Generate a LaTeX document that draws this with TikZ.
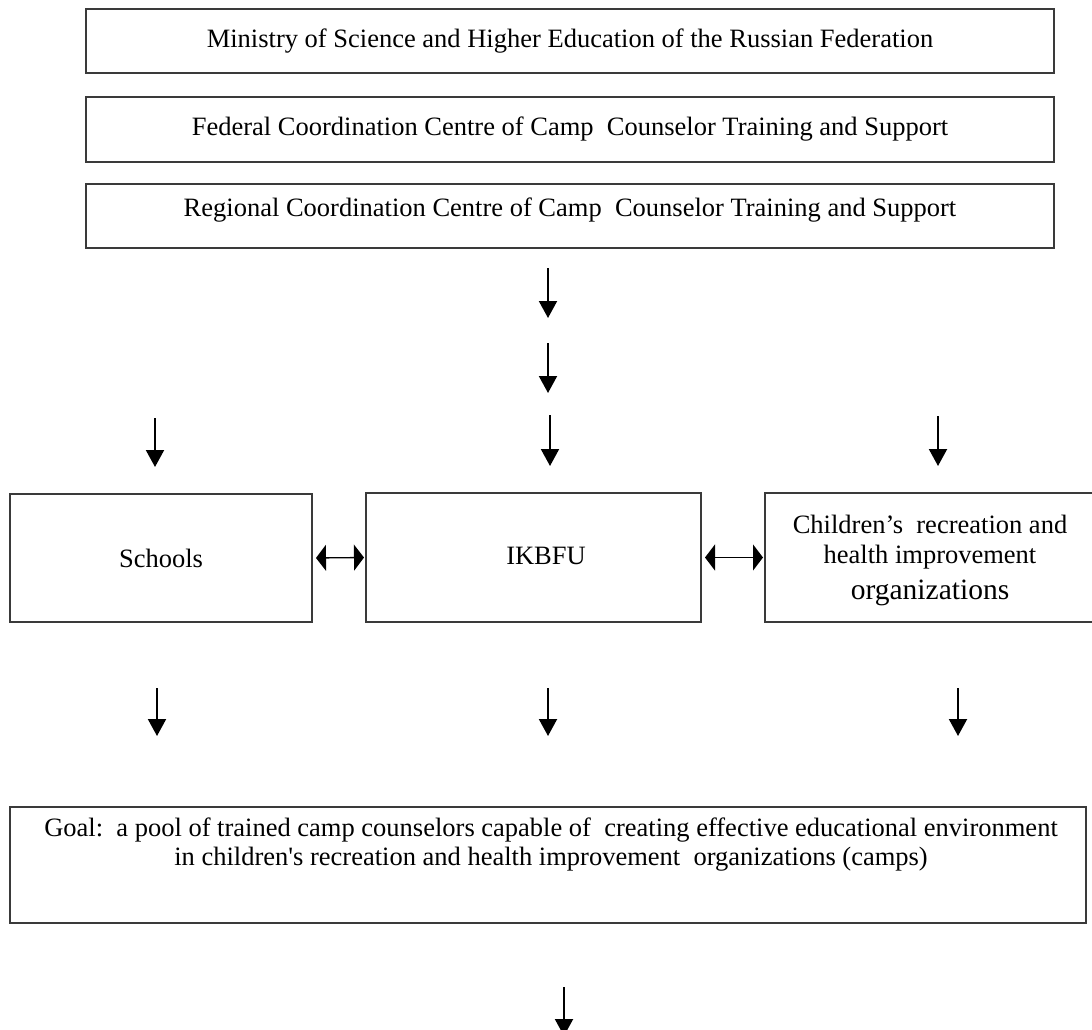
\documentclass[tikz,border=0pt]{standalone}
\usepackage{fontspec}
\setmainfont{Liberation Serif}
\newfontfamily\nomapserif{Liberation Serif}[Ligatures=Common]
\usetikzlibrary{arrows.meta}
\definecolor{boxgray}{HTML}{3A3A3A}
\newcommand{\sq}{{\nomapserif'}}
\begin{document}
\begin{tikzpicture}[x=1pt,y=-1pt,
  box/.style={draw=boxgray,line width=2pt,inner sep=0pt,font=\fontsize{26.5}{29}\selectfont,align=center},
  txt/.style={inner sep=0pt,font=\fontsize{26.5}{29}\selectfont,align=center},
  down/.style={line width=2pt,-{Triangle[width=18pt,length=17pt]}},
  both/.style={line width=1.3pt,{Triangle[width=26pt,length=10pt]}-{Triangle[width=26pt,length=10pt]},shorten <=3pt,shorten >=1pt}
]
\useasboundingbox (0,0) rectangle (1092,1030);
% top boxes
\node[box,minimum width=968pt,minimum height=64pt] (min) at (570,41) {Ministry of Science and Higher Education of the Russian Federation};
\node[box,minimum width=968pt,minimum height=65pt] (fed) at (570,129.5) {Federal Coordination Centre of Camp\ \ Counselor Training and Support};
\node[box,minimum width=968pt,minimum height=64pt] (reg) at (570,216) {};
\node[txt] (regT) at (570,210) {Regional Coordination Centre of Camp\ \ Counselor Training and Support};
% free arrows
\coordinate (a1s) at (548,268); \coordinate (a1e) at (548,318);
\coordinate (a2s) at (548,343); \coordinate (a2e) at (548,393);
\coordinate (a3s) at (550,415); \coordinate (a3e) at (550,466);
\coordinate (l1s) at (155,418); \coordinate (l1e) at (155,467);
\coordinate (r1s) at (938,416); \coordinate (r1e) at (938,466);
\draw[down] (a1s) -- (a1e);
\draw[down] (a2s) -- (a2e);
\draw[down] (a3s) -- (a3e);
\draw[down] (l1s) -- (l1e);
\draw[down] (r1s) -- (r1e);
% middle row
\node[box,minimum width=302pt,minimum height=128pt] (sch) at (161,558) {Schools};
\node[box,minimum width=335pt,minimum height=129pt] (ikb) at (533.5,557.5) {};
\node[txt] (ikbT) at (546,556) {IKBFU};
\node[box,minimum width=340pt,minimum height=129pt] (chi) at (935,557.5) {};
\node[txt,anchor=north] (chiT) at (930,515) {Children’s\ \ recreation and\\[1pt] health improvement\\[7pt] {\fontsize{29.5}{35}\selectfont organizations}};
\draw[both] (sch.east) -- (ikb.west);
\draw[both] (ikb.east) -- (chi.west);
% lower arrows
\coordinate (l2s) at (157,688); \coordinate (l2e) at (157,736);
\coordinate (m2s) at (548,688); \coordinate (m2e) at (548,736);
\coordinate (r2s) at (958,688); \coordinate (r2e) at (958,736);
\draw[down] (l2s) -- (l2e);
\draw[down] (m2s) -- (m2e);
\draw[down] (r2s) -- (r2e);
% goal
\node[box,minimum width=1076pt,minimum height=116pt] (goal) at (548,865) {};
\node[txt] (goalT) at (551,845) {Goal:\ \ a pool of trained camp counselors capable of\ \ creating effective educational environment\\ in children\sq s recreation and health improvement\ \ organizations (camps)};
\coordinate (gs) at (564,987); \coordinate (ge) at (564,1036);
\draw[down] (gs) -- (ge);
\end{tikzpicture}
\end{document}
